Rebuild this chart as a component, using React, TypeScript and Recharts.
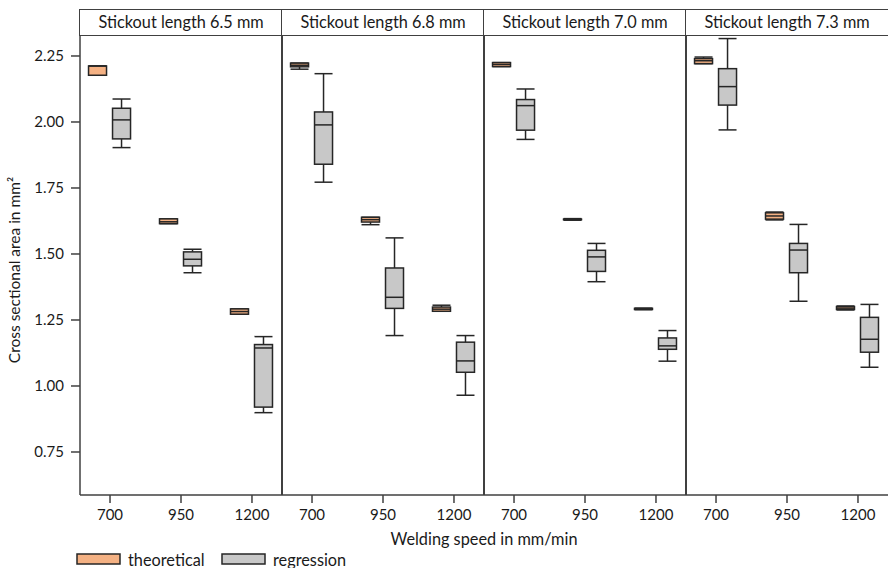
import React from 'react';
import { ComposedChart, Bar, XAxis, YAxis } from 'recharts';

// ---- data ----
const speeds = ['700', '950', '1200'];
const stickouts = ['6.5', '6.8', '7.0', '7.3'];
const yTicks = [0.75, 1.0, 1.25, 1.5, 1.75, 2.0, 2.25];

// [min, q1, median, q3, max] for each welding speed (700, 950, 1200)
const theoretical65 = [
  [2.177, 2.177, 2.212, 2.212, 2.212],
  [1.615, 1.615, 1.622, 1.633, 1.633],
  [1.272, 1.272, 1.282, 1.292, 1.292],
];
const regression65 = [
  [1.903, 1.936, 2.008, 2.052, 2.087],
  [1.429, 1.455, 1.48, 1.508, 1.518],
  [0.899, 0.92, 1.144, 1.157, 1.187],
];
const theoretical68 = [
  [2.2, 2.209, 2.215, 2.223, 2.223],
  [1.611, 1.621, 1.63, 1.639, 1.639],
  [1.283, 1.283, 1.291, 1.299, 1.306],
];
const regression68 = [
  [1.772, 1.84, 1.989, 2.038, 2.183],
  [1.191, 1.294, 1.336, 1.447, 1.561],
  [0.965, 1.052, 1.095, 1.166, 1.191],
];
const theoretical70 = [
  [2.21, 2.21, 2.218, 2.225, 2.225],
  [1.628, 1.63, 1.631, 1.632, 1.634],
  [1.289, 1.29, 1.292, 1.294, 1.295],
];
const regression70 = [
  [1.934, 1.969, 2.062, 2.085, 2.125],
  [1.395, 1.434, 1.489, 1.514, 1.54],
  [1.094, 1.139, 1.152, 1.182, 1.21],
];
const theoretical73 = [
  [2.221, 2.221, 2.232, 2.24, 2.246],
  [1.629, 1.632, 1.644, 1.656, 1.659],
  [1.288, 1.29, 1.295, 1.301, 1.303],
];
const regression73 = [
  [1.97, 2.064, 2.134, 2.202, 2.316],
  [1.321, 1.429, 1.515, 1.54, 1.612],
  [1.071, 1.128, 1.177, 1.26, 1.309],
];

const theoreticalSets = [theoretical65, theoretical68, theoretical70, theoretical73];
const regressionSets = [regression65, regression68, regression70, regression73];

// ---- styles ----
const LINE = '#404040';
const BOX_STROKE = '#262626';
const THEO_FILL = '#F4B183';
const REG_FILL = '#C8C8C8';
const FONT = 'Lato, "Noto Sans", sans-serif';
const PANEL_W = 202;
const PANEL_LEFTS = [80, 282, 484, 686];
const H = 568;
const TOP = 35;
const PLOT_BOTTOM = 495;
const X_AXIS_H = 30;
const BOTTOM = H - PLOT_BOTTOM - X_AXIS_H;
const Y_DOMAIN: [number, number] = [0.5871, 2.3295];
const X_DOMAIN: [number, number] = [-0.423, 2.423];
const OFFSET = 12;
const BOX_W = 18;
const TITLE_SIZE = 16.3;

const rangeKey = (d: any) => [
  Math.min(d.theo[0], d.reg[0]),
  Math.max(d.theo[4], d.reg[4]),
];

function drawBox(stats: number[], cx: number, pix: (v: number) => number, fill: string, key: string) {
  const [mn, q1, md, q3, mx] = stats.map(pix);
  const l = cx - BOX_W / 2;
  const r = cx + BOX_W / 2;
  const sw = 1.5;
  return (
    <g key={key}>
      <line x1={cx} x2={cx} y1={mx} y2={q3} stroke={BOX_STROKE} strokeWidth={sw} />
      <line x1={cx} x2={cx} y1={q1} y2={mn} stroke={BOX_STROKE} strokeWidth={sw} />
      <line x1={l} x2={r} y1={mx} y2={mx} stroke={BOX_STROKE} strokeWidth={sw} />
      <line x1={l} x2={r} y1={mn} y2={mn} stroke={BOX_STROKE} strokeWidth={sw} />
      <rect x={l} y={q3} width={BOX_W} height={Math.max(q1 - q3, 0)} fill={fill} stroke={BOX_STROKE} strokeWidth={sw} />
      <line x1={l} x2={r} y1={md} y2={md} stroke={BOX_STROKE} strokeWidth={sw} />
    </g>
  );
}

const BoxShape = (props: any) => {
  const { x, y, width, height, payload } = props;
  if (!payload || x == null) return null;
  const [lo, hi] = rangeKey(payload);
  const top = Math.min(y, y + height);
  const bot = Math.max(y, y + height);
  const pix = (v: number) => top + ((hi - v) / (hi - lo)) * (bot - top);
  const cx = x + width / 2;
  return (
    <g>
      {drawBox(payload.theo, cx - OFFSET, pix, THEO_FILL, 't')}
      {drawBox(payload.reg, cx + OFFSET, pix, REG_FILL, 'r')}
    </g>
  );
};

function Panel({ index }: { index: number }) {
  const first = index === 0;
  const data = speeds.map((s, i) => ({
    idx: i,
    speed: s,
    theo: theoreticalSets[index][i],
    reg: regressionSets[index][i],
  }));
  const left = first ? 0 : PANEL_LEFTS[index];
  const width = first ? PANEL_LEFTS[0] + PANEL_W : PANEL_W + 2;
  return (
    <div style={{ position: 'absolute', left, top: 0 }}>
      <ComposedChart
        width={width}
        height={H}
        data={data}
        margin={{ top: TOP, right: first ? 0 : 2, bottom: BOTTOM, left: first ? 8 : 0 }}
      >
        <XAxis
          type="number"
          dataKey="idx"
          domain={X_DOMAIN}
          allowDataOverflow
          ticks={[0, 1, 2]}
          interval={0}
          tickFormatter={(v: number) => speeds[v]}
          height={X_AXIS_H}
          tickSize={8}
          tickMargin={6}
          stroke={LINE}
          axisLine={{ stroke: LINE, strokeWidth: 1.5 }}
          tickLine={{ stroke: LINE, strokeWidth: 1.5 }}
          tick={{ fill: '#1a1a1a', fontSize: 15 }}
        />
        <YAxis
          type="number"
          domain={Y_DOMAIN}
          allowDataOverflow
          ticks={yTicks}
          interval={0}
          width={first ? 72 : 0}
          hide={!first}
          tick={{ fill: '#1a1a1a', fontSize: 15 }}
          tickLine={{ stroke: LINE, strokeWidth: 1.5 }}
          tickSize={9}
          tickMargin={7}
          tickFormatter={(v: number) => v.toFixed(2)}
          axisLine={{ stroke: LINE, strokeWidth: 1.5 }}
        />
        <Bar dataKey={rangeKey} shape={BoxShape} barSize={40} isAnimationActive={false} />
      </ComposedChart>
    </div>
  );
}

export default function App() {
  return (
    <div
      style={{
        position: 'absolute',
        left: 0,
        top: 0,
        width: 888,
        height: H,
        overflow: 'hidden',
        background: '#fff',
        fontFamily: FONT,
        color: '#1a1a1a',
      }}
    >
      {stickouts.map((s, i) => (
        <Panel key={s} index={i} />
      ))}
      {stickouts.map((s, i) => (
        <div
          key={'strip' + s}
          style={{
            position: 'absolute',
            left: PANEL_LEFTS[i] - 0.75,
            top: 9,
            width: PANEL_W + 0.75,
            height: 27,
            boxSizing: 'border-box',
            borderLeft: `1.5px solid ${LINE}`,
            borderTop: `1.5px solid ${LINE}`,
            borderBottom: `1.5px solid ${LINE}`,
            fontSize: TITLE_SIZE,
            lineHeight: '24px',
            textAlign: 'center',
            whiteSpace: 'nowrap',
          }}
        >
          {`Stickout length ${s} mm`}
        </div>
      ))}
      {PANEL_LEFTS.slice(1).map((x) => (
        <div
          key={'sep' + x}
          style={{
            position: 'absolute',
            left: x - 0.75,
            top: TOP,
            width: 1.5,
            height: PLOT_BOTTOM - TOP,
            background: LINE,
          }}
        />
      ))}
      <svg
        width={888}
        height={H}
        style={{ position: 'absolute', left: 0, top: 0, pointerEvents: 'none' }}
      >
        <text
          x={484}
          y={538}
          textAnchor="middle"
          dominantBaseline="central"
          fontSize={TITLE_SIZE}
          fill="#1a1a1a"
        >
          Welding speed in mm/min
        </text>
        <text
          transform="translate(14,270) rotate(-90)"
          textAnchor="middle"
          dominantBaseline="central"
          fontSize={15.5}
          fill="#1a1a1a"
        >
          Cross sectional area in mm²
        </text>
        <rect x={77} y={554} width={43} height={10} fill={THEO_FILL} stroke={BOX_STROKE} strokeWidth={1.5} />
        <text x={128} y={559} dominantBaseline="central" fontSize={TITLE_SIZE} fill="#1a1a1a">
          theoretical
        </text>
        <rect x={222} y={554} width={43} height={10} fill={REG_FILL} stroke={BOX_STROKE} strokeWidth={1.5} />
        <text x={273} y={559} dominantBaseline="central" fontSize={TITLE_SIZE} fill="#1a1a1a">
          regression
        </text>
      </svg>
    </div>
  );
}
